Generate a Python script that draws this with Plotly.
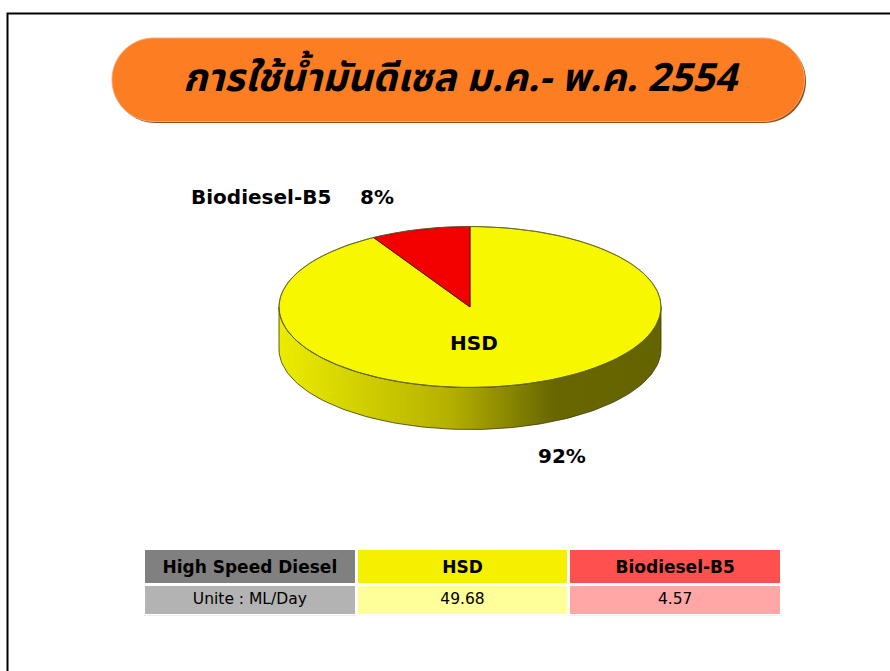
import math
import plotly.graph_objects as go

# ---------------- data ----------------
title_text = "การใช้น้ำมันดีเซล ม.ค.- พ.ค. 2554"
categories = ["HSD", "Biodiesel-B5"]
values = [49.68, 4.57]          # ML/Day
table_header = ["High Speed Diesel", "HSD", "Biodiesel-B5"]
table_row = ["Unite : ML/Day", "49.68", "4.57"]

# ---------------- style / geometry ----------------
W, H = 890, 671
CX, CY, RX, RY, DEPTH = 470, 307, 191, 80.5, 42
FONT = "DejaVu Sans, Verdana, sans-serif"

total = sum(values)
frac = [v / total for v in values]
pct = [round(f * 100) for f in frac]

def ell(t_deg, dy=0.0):
    t = math.radians(t_deg)
    return CX + RX * math.cos(t), CY - RY * math.sin(t) + dy

def arc(t0, t1, n=120, dy=0.0):
    xs, ys = [], []
    for i in range(n + 1):
        x, y = ell(t0 + (t1 - t0) * i / n, dy)
        xs.append(x); ys.append(y)
    return xs, ys

fig = go.Figure()

# side band (front half of the cylinder)
tx, ty = arc(180, 360)
bx, by = arc(360, 180, dy=DEPTH)
fig.add_trace(go.Scatter(
    x=tx + bx + [tx[0]], y=ty + by + [ty[0]], mode="lines",
    fill="toself",
    fillgradient=dict(type="horizontal",
                      colorscale=[[0, "#ecec00"], [0.45, "#b4b000"],
                                  [0.72, "#686600"], [1, "#646400"]]),
    line=dict(color="#3a3a00", width=0.8), hoverinfo="skip", showlegend=False))

# slices on top: Biodiesel counter-clockwise from 12 o'clock, HSD the rest
b_start = 90
b_end = 90 + 360 * frac[1]
h_start, h_end = b_end, 90 + 360
colors = {"HSD": "#f7f700", "Biodiesel-B5": "#f20000"}
ranges = {"HSD": (h_start, h_end), "Biodiesel-B5": (b_start, b_end)}
for name in categories:
    a0, a1 = ranges[name]
    n = max(4, int(abs(a1 - a0)))
    ax_, ay_ = arc(a0, a1, n=n)
    fig.add_trace(go.Scatter(
        x=[CX] + ax_ + [CX], y=[CY] + ay_ + [CY], mode="lines",
        fill="toself", fillcolor=colors[name],
        line=dict(color="#555500" if name == "HSD" else "#400000", width=0.8),
        name=name, hoverinfo="skip", showlegend=False))

# outline of top ellipse
ox, oy = arc(0, 360, n=240)
fig.add_trace(go.Scatter(x=ox, y=oy, mode="lines",
                         line=dict(color="#666633", width=0.8),
                         hoverinfo="skip", showlegend=False))

# labels
LBL = dict(family=FONT, size=20, color="black")
ann = [
    dict(x=261, y=197, text="<b>%s</b>" % categories[1], showarrow=False, font=LBL),
    dict(x=377, y=197, text="<b>%d%%</b>" % pct[1], showarrow=False, font=LBL),
    dict(x=474, y=343, text="<b>%s</b>" % categories[0], showarrow=False, font=LBL),
    dict(x=562, y=456, text="<b>%d%%</b>" % pct[0], showarrow=False, font=LBL),
    dict(x=461, y=79, text="<b><i>%s</i></b>" % title_text, showarrow=False,
         font=dict(family="Noto Sans Thai, Tahoma, sans-serif", size=39, color="black")),
]
for a in ann:
    a.update(xref="x", yref="y")

# title banner (rounded pill) built from polyline points
def pill(x0, y0, x1, y1, n=40):
    r = (y1 - y0) / 2
    cy = (y0 + y1) / 2
    pts = []
    for i in range(n + 1):           # right cap, top -> bottom
        t = math.pi / 2 - math.pi * i / n
        pts.append((x1 - r + r * math.cos(t), cy - r * math.sin(t)))
    for i in range(n + 1):           # left cap, bottom -> top
        t = -math.pi / 2 - math.pi * i / n
        pts.append((x0 + r + r * math.cos(t), cy - r * math.sin(t)))
    return "M " + " L ".join(f"{x:.2f},{y:.2f}" for x, y in pts) + " Z"

shapes = [
    dict(type="rect", xref="x", yref="y", x0=7.5, y0=13.5, x1=W + 20, y1=H + 20,
         line=dict(color="black", width=2), fillcolor="rgba(0,0,0,0)", layer="below"),
    dict(type="path", xref="x", yref="y", path=pill(113.5, 39.5, 806, 123),
         fillcolor="#9a4a12", line=dict(width=0), layer="below"),
    dict(type="path", xref="x", yref="y", path=pill(112, 38, 804.5, 121.5),
         fillcolor="#fc7d22", line=dict(color="#f6a878", width=1), layer="below"),
]

# table
fig.add_trace(go.Table(
    domain=dict(x=[143.5 / W, 781.5 / W], y=[1 - 616 / H, 1 - 548.5 / H]),
    columnwidth=[1, 1, 1],
    header=dict(values=["<b>%s</b>" % v for v in table_header],
                fill_color=["#808080", "#f5f000", "#ff5050"],
                line=dict(color="white", width=3),
                align="center", height=31,
                font=dict(family=FONT, size=17, color="black")),
    cells=dict(values=[[v] for v in table_row],
               fill_color=["#b3b3b3", "#ffff99", "#ffa6a6"],
               line=dict(color="white", width=3),
               align="center", height=31,
               font=dict(family=FONT, size=15.5, color="black")),
))

fig.update_layout(
    width=W, height=H, autosize=False,
    margin=dict(l=0, r=0, t=0, b=0),
    paper_bgcolor="white", plot_bgcolor="white",
    xaxis=dict(range=[0, W], visible=False, fixedrange=True),
    yaxis=dict(range=[H, 0], visible=False, fixedrange=True),
    annotations=ann, shapes=shapes, showlegend=False,
)

fig.write_html("out.html", config={"displayModeBar": False},
               post_script="document.body.style.margin='0';document.body.style.overflow='hidden';")
